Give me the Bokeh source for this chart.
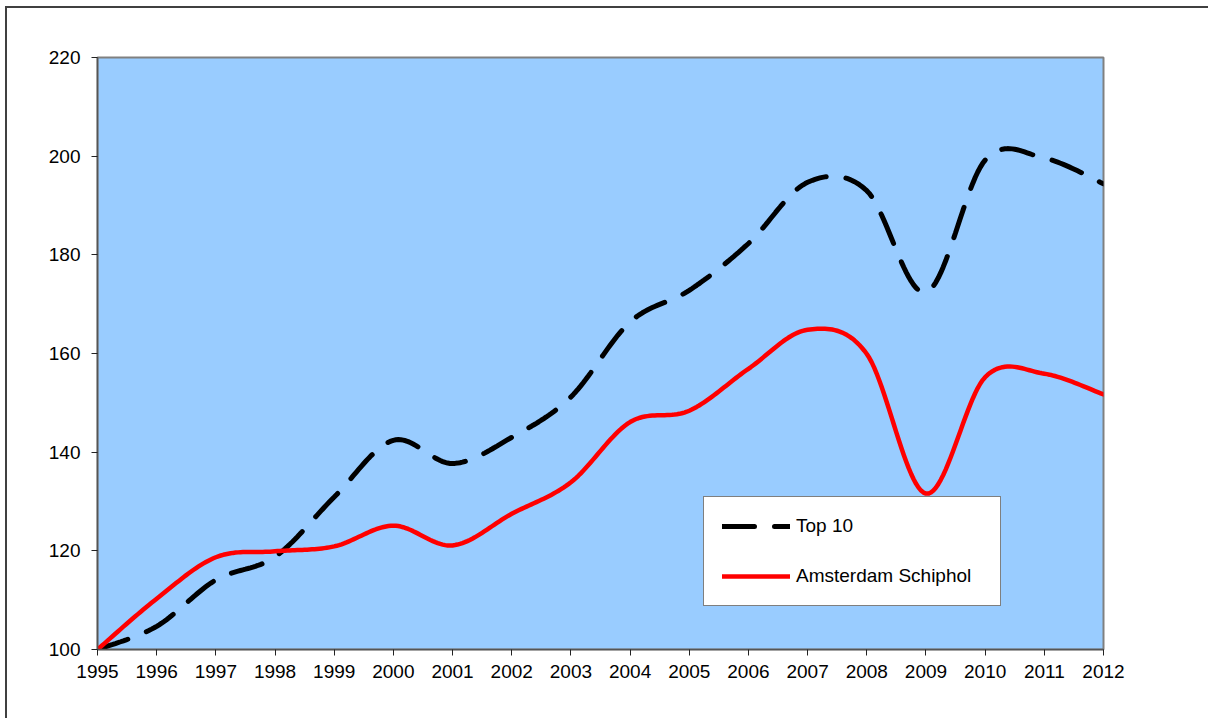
from bokeh.plotting import figure
from bokeh.models import Range1d, FixedTicker
from bokeh.embed import file_html
from bokeh.resources import INLINE

years = list(range(1995, 2013))
top10 = [100, 104.7, 114.1, 118.8, 130.9, 142.4, 137.7, 143.0, 151.2, 166.4,
         172.8, 182.3, 194.7, 193.0, 172.4, 199.2, 199.6, 194.4]
schiphol = [100, 110.3, 118.7, 119.9, 120.9, 125.1, 121.1, 127.5, 133.9, 146.1,
            148.4, 156.9, 164.8, 159.9, 131.6, 155.2, 155.9, 151.7]
y_ticks = [100, 120, 140, 160, 180, 200, 220]
series_names = ["Top 10", "Amsterdam Schiphol"]


def smooth(xs, ys, n=24):
    """Catmull-Rom smoothing (like a spreadsheet's 'smoothed line')."""
    ox, oy = [], []
    k = len(xs)
    for i in range(k - 1):
        x0 = xs[i - 1] if i > 0 else xs[i]
        y0 = ys[i - 1] if i > 0 else ys[i]
        x3 = xs[i + 2] if i + 2 < k else xs[i + 1]
        y3 = ys[i + 2] if i + 2 < k else ys[i + 1]
        mx1, my1 = (xs[i + 1] - x0) / 2, (ys[i + 1] - y0) / 2
        mx2, my2 = (x3 - xs[i]) / 2, (y3 - ys[i]) / 2
        for j in range(n):
            t = j / n
            h00 = 2 * t**3 - 3 * t**2 + 1
            h10 = t**3 - 2 * t**2 + t
            h01 = -2 * t**3 + 3 * t**2
            h11 = t**3 - t**2
            ox.append(h00 * xs[i] + h10 * mx1 + h01 * xs[i + 1] + h11 * mx2)
            oy.append(h00 * ys[i] + h10 * my1 + h01 * ys[i + 1] + h11 * my2)
    ox.append(xs[-1])
    oy.append(ys[-1])
    return ox, oy


FONT = "Liberation Sans"

p = figure(width=1203, height=712,
           x_range=Range1d(1995, 2012), y_range=Range1d(100, 220),
           output_backend="svg", toolbar_location=None,
           min_border_left=90, min_border_right=107,
           min_border_top=49, min_border_bottom=71,
           styles={"margin-top": "6px", "margin-left": "5px",
                   "border-top": "2px solid #404040",
                   "border-left": "2px solid #404040"})

p.background_fill_color = "#99CCFF"
p.border_fill_color = "white"
p.outline_line_color = "#808080"
p.outline_line_width = 2
p.grid.visible = False

p.xaxis.ticker = FixedTicker(ticks=years)
p.yaxis.ticker = FixedTicker(ticks=y_ticks)
for ax in (p.xaxis, p.yaxis):
    ax.axis_line_color = "#555555"
    ax.axis_line_width = 1.5
    ax.major_tick_line_color = "#222222"
    ax.major_tick_out = 6
    ax.major_tick_in = 0
    ax.minor_tick_line_color = None
    ax.major_label_text_font = FONT
    ax.major_label_text_font_size = "19px"
    ax.major_label_text_color = "black"
p.xaxis.major_label_standoff = 9
p.yaxis.major_label_standoff = 11

tx, ty = smooth(years, top10)
sx, sy = smooth(years, schiphol)

p.line(tx, ty, line_color="black", line_width=5, line_dash="32 20",
       line_cap="round", legend_label=series_names[0])
p.line(sx, sy, line_color="#FF0000", line_width=4.5, line_cap="round",
       line_join="round", legend_label=series_names[1])

lg = p.legend[0]
lg.location = (606, 43)
lg.border_line_color = "black"
lg.border_line_width = 1
lg.background_fill_color = "white"
lg.background_fill_alpha = 1
lg.padding = 18
lg.spacing = 28
lg.glyph_width = 68
lg.glyph_height = 6
lg.label_height = 6
lg.label_width = 186
lg.label_standoff = 6
lg.label_text_font = FONT
lg.label_text_font_size = "19px"
lg.label_text_color = "black"
lg.margin = 0

open("out.html", "w").write(file_html(p, INLINE))
